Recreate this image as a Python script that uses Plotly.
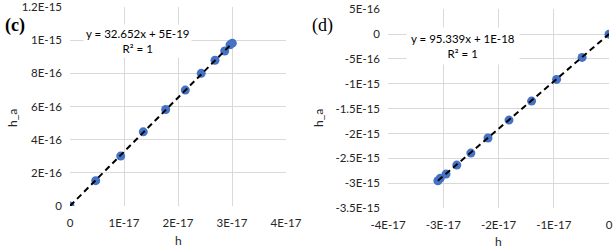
import plotly.graph_objects as go

# ---- data ----
h_c = [0.0, 0.476e-17, 0.939e-17, 1.357e-17, 1.772e-17, 2.135e-17, 2.43e-17, 2.685e-17, 2.865e-17, 2.963e-17, 3.006e-17]
ha_c = [0.0, 1.53e-16, 3.01e-16, 4.47e-16, 5.82e-16, 6.99e-16, 8.0e-16, 8.79e-16, 9.35e-16, 9.72e-16, 9.82e-16]
h_d = [0.0, -0.487e-17, -0.949e-17, -1.401e-17, -1.81e-17, -2.19e-17, -2.50e-17, -2.755e-17, -2.95e-17, -3.056e-17, -3.097e-17]
ha_d = [0.0, -0.469e-15, -0.911e-15, -1.348e-15, -1.73e-15, -2.09e-15, -2.394e-15, -2.636e-15, -2.817e-15, -2.903e-15, -2.952e-15]

slope_c, icpt_c = 32.652, 5e-19
slope_d, icpt_d = 95.339, 1e-18

xt_c_vals = [0, 1e-17, 2e-17, 3e-17, 4e-17]
xt_c_text = ["0", "1E-17", "2E-17", "3E-17", "4E-17"]
yt_c_vals = [0, 2e-16, 4e-16, 6e-16, 8e-16, 1e-15, 1.2e-15]
yt_c_text = ["0", "2E-16", "4E-16", "6E-16", "8E-16", "1E-15", "1.2E-15"]
xt_d_vals = [-4e-17, -3e-17, -2e-17, -1e-17, 0]
xt_d_text = ["-4E-17", "-3E-17", "-2E-17", "-1E-17", "0"]
yt_d_vals = [-3.5e-15, -3e-15, -2.5e-15, -2e-15, -1.5e-15, -1e-15, -5e-16, 0, 5e-16]
yt_d_text = ["-3.5E-15", "-3E-15", "-2.5E-15", "-2E-15", "-1.5E-15", "-1E-15", "-5E-16", "0", "5E-16"]

W, H = 614, 248
FONT = "Lato"
TXT = "#262626"
GRID = "#d9d9d9"
BLUE = "#4472C4"
FS = 11.5

fig = go.Figure()

def trend(xs, m, b):
    lo, hi = min(xs), max(xs)
    return [lo, hi], [m * lo + b, m * hi + b]

# panel (c)
tx, ty = trend(h_c, slope_c, icpt_c)
fig.add_trace(go.Scatter(x=h_c, y=ha_c, mode="markers", xaxis="x", yaxis="y",
                         marker=dict(color=BLUE, size=9), showlegend=False))
fig.add_trace(go.Scatter(x=tx, y=ty, mode="lines", xaxis="x", yaxis="y",
                         line=dict(color="black", width=2, dash="6px,4px"), showlegend=False))
# panel (d)
tx, ty = trend(h_d, slope_d, icpt_d)
fig.add_trace(go.Scatter(x=h_d, y=ha_d, mode="markers", xaxis="x2", yaxis="y2",
                         marker=dict(color=BLUE, size=9), showlegend=False))
fig.add_trace(go.Scatter(x=tx, y=ty, mode="lines", xaxis="x2", yaxis="y2",
                         line=dict(color="black", width=2, dash="6px,4px"), showlegend=False))

def px_x(p):
    return p / W

def px_y(p):
    return 1 - p / H

axcommon = dict(showgrid=True, gridcolor=GRID, gridwidth=1, zeroline=False, automargin=False,
                showline=False, ticks="", tickfont=dict(family=FONT, size=FS, color=TXT),
                tickmode="array")
xax = dict(ticklabelstandoff=8, **axcommon)
yax = dict(ticklabelstandoff=7, **axcommon)

fig.update_layout(
    width=W, height=H, margin=dict(l=0, r=0, t=0, b=0, autoexpand=False),
    paper_bgcolor="white", plot_bgcolor="white",
    font=dict(family=FONT, size=FS, color=TXT),
    xaxis=dict(domain=[px_x(70), px_x(286)], range=[0, 4e-17], anchor="y",
               tickvals=xt_c_vals, ticktext=xt_c_text, **xax),
    yaxis=dict(domain=[px_y(206), px_y(7)], range=[0, 1.2e-15], anchor="x",
               tickvals=yt_c_vals, ticktext=yt_c_text, **yax),
    xaxis2=dict(domain=[px_x(388), px_x(609)], range=[-4e-17, 0], anchor="y2",
                tickvals=xt_d_vals, ticktext=xt_d_text, **xax),
    yaxis2=dict(domain=[px_y(208), px_y(9.3)], range=[-3.5e-15, 5e-16], anchor="x2",
                tickvals=yt_d_vals, ticktext=yt_d_text, **yax),
)

anns = [
    dict(text="<b>(c)</b>", x=px_x(15), y=px_y(25), font=dict(family="Liberation Serif", size=18, color="black")),
    dict(text="(d)", x=px_x(322), y=px_y(25), font=dict(family="Liberation Serif", size=18, color="black")),
    dict(text="h_a", x=px_x(12), y=px_y(118), textangle=-90, font=dict(family=FONT, size=12, color=TXT)),
    dict(text="h_a", x=px_x(318), y=px_y(118), textangle=-90, font=dict(family=FONT, size=12, color=TXT)),
    dict(text="h", x=px_x(178), y=px_y(240), font=dict(family=FONT, size=12, color=TXT)),
    dict(text="h", x=px_x(498), y=px_y(241), font=dict(family=FONT, size=12, color=TXT)),
    dict(text="y = 32.652x + 5E-19<br>R² = 1", x=px_x(137), y=px_y(41), bgcolor="white",
         borderpad=2, font=dict(family=FONT, size=FS, color="black")),
    dict(text="y = 95.339x + 1E-18<br>R² = 1", x=px_x(463), y=px_y(46), bgcolor="white",
         borderpad=4, font=dict(family=FONT, size=FS, color="black")),
]
for a in anns:
    a.update(xref="paper", yref="paper", showarrow=False, xanchor="center", yanchor="middle")
    fig.add_annotation(**a)

fig.write_html("out.html", config={"displayModeBar": False},
               post_script="document.body.style.margin='0';document.body.style.overflow='hidden';")
